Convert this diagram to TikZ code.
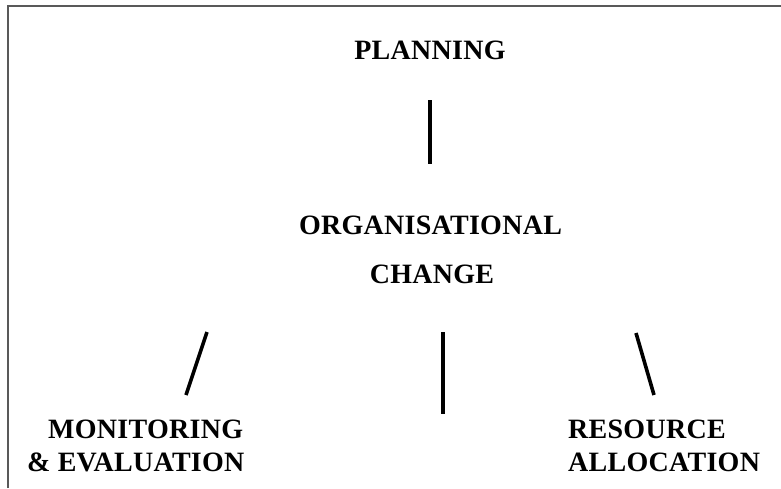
\documentclass[tikz,border=0pt]{standalone}
\usepackage{fontspec}
\setmainfont{Liberation Serif}[LetterSpace=1]
\begin{document}
\begin{tikzpicture}[x=1pt,y=-1pt,
  label/.style={inner sep=0pt,font=\fontsize{28}{34}\selectfont\bfseries},
  link/.style={line width=3.6pt,black},
  frame/.style={line width=2pt,black!65}]
\useasboundingbox (0,0) rectangle (781,488);
% open frame (top and left edges)
\draw[frame] (8,488) -- (8,6) -- (781,6);

% labels
\node[label,anchor=base] (plan) at (430,59) {PLANNING};
\node[label,anchor=base] (org)  at (430.5,234) {ORGANISATIONAL};
\node[label,anchor=base] (chg)  at (432,283) {CHANGE};
\node[label,anchor=base west] (mon) at (48,438) {MONITORING};
\node[label,anchor=base west] (eva) at (27,471) {\&~EVALUATION};
\node[label,anchor=base west] (res) at (568,438) {RESOURCE};
\node[label,anchor=base west] (all) at (568,471) {ALLOCATION};

% connector end points
\coordinate (p1) at (430,100);
\coordinate (p2) at (430,164);
\coordinate (l1) at (207,332);
\coordinate (l2) at (186,395);
\coordinate (m1) at (443,332);
\coordinate (m2) at (443,414);
\coordinate (r1) at (636,333);
\coordinate (r2) at (654,395);

\draw[link] (p1) -- (p2);
\draw[link] (l1) -- (l2);
\draw[link] (m1) -- (m2);
\draw[link] (r1) -- (r2);
\end{tikzpicture}
\end{document}
